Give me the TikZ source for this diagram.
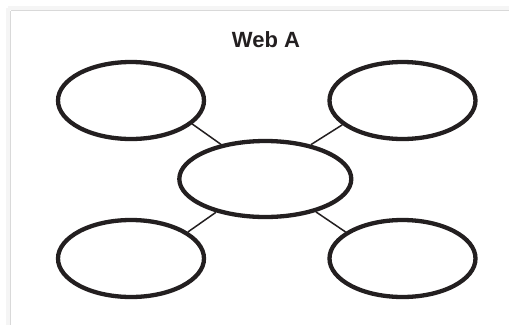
\documentclass[tikz,border=0pt]{standalone}
\usepackage{fontspec}
\setmainfont{Liberation Sans}
\usetikzlibrary{shapes.geometric}
\definecolor{ink}{HTML}{231F20}
\tikzset{
  bubble/.style={ellipse, draw=ink, line width=4.3pt, inner sep=0pt,
    minimum width=146pt, minimum height=77pt},
  hub/.style={bubble, minimum width=172pt, minimum height=76pt},
  spoke/.style={draw=ink, line width=1.5pt},
}
\begin{document}
\begin{tikzpicture}[x=1pt,y=-1pt]
\useasboundingbox (0,0) rectangle (509,325);
% soft frame edge along top and left
\draw[gray!8, line width=4pt] (8,8) -- (509,8);
\draw[gray!8, line width=4pt] (8,8) -- (8,325);
\draw[gray!30, line width=1.2pt] (10.5,10.5) -- (509,10.5);
\draw[gray!30, line width=1.2pt] (10.5,10.5) -- (10.5,325);
% title
\node[font=\bfseries\fontsize{22}{26}\selectfont, text=ink, anchor=base] (title) at (266,47) {Web A};
% bubbles
\node[hub] (c) at (265.3,179) {};
\node[bubble] (tl) at (131,100.5) {};
\node[bubble] (tr) at (402.5,100.5) {};
\node[bubble] (bl) at (131,258.5) {};
\node[bubble] (br) at (402.5,258.5) {};
% spokes
\draw[spoke] (tl.-21) -- (c.142);
\draw[spoke] (tr.202) -- (c.37);
\draw[spoke] (bl.25) -- (c.214);
\draw[spoke] (br.155) -- (c.-33);
\end{tikzpicture}
\end{document}
